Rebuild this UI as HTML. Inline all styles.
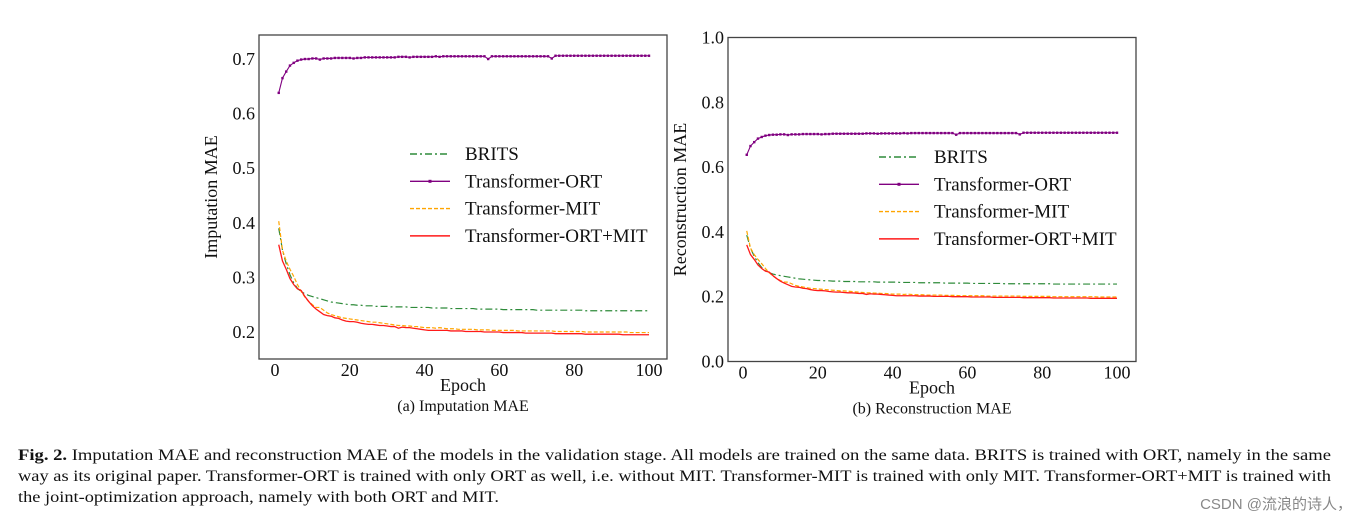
<!DOCTYPE html>
<html><head><meta charset="utf-8"><style>
html,body{margin:0;padding:0;background:#fff;width:1364px;height:526px;overflow:hidden}
svg text{font-family:"Liberation Serif","Noto Serif CJK SC",serif}
</style></head><body>
<svg id="fig" width="1364" height="526" viewBox="0 0 1364 526" xmlns="http://www.w3.org/2000/svg">
<g id="chartA"></g>
<g id="chartB"></g>
<g font-size="15.5" fill="#111">
<text x="18" y="460" textLength="1313" lengthAdjust="spacingAndGlyphs"><tspan font-weight="bold">Fig. 2.</tspan> Imputation MAE and reconstruction MAE of the models in the validation stage. All models are trained on the same data. BRITS is trained with ORT, namely in the same</text>
<text x="18" y="481" textLength="1313" lengthAdjust="spacingAndGlyphs">way as its original paper. Transformer-ORT is trained with only ORT as well, i.e. without MIT. Transformer-MIT is trained with only MIT. Transformer-ORT+MIT is trained with</text>
<text x="18" y="502" textLength="481" lengthAdjust="spacingAndGlyphs">the joint-optimization approach, namely with both ORT and MIT.</text>
</g>
<text x="1352" y="509" text-anchor="end" font-size="15" fill="#888" style="font-family:'Liberation Sans','Noto Sans CJK SC',sans-serif">CSDN @流浪的诗人，</text>
</svg>
<script>
const epochs = Array.from({length:100},(_,i)=>i+1);
const seriesNames = ["BRITS","Transformer-ORT","Transformer-MIT","Transformer-ORT+MIT"];
const ortValues = [0.638,0.665,0.677,0.688,0.693,0.697,0.699,0.700,0.700,0.701,0.701,0.699,0.701,0.701,0.701,0.702,0.702,0.702,0.702,0.702,
0.701,0.702,0.702,0.703,0.703,0.703,0.703,0.703,0.703,0.703,0.703,0.703,0.704,0.704,0.704,0.703,0.704,0.704,0.704,0.704,
0.704,0.704,0.705,0.704,0.705,0.705,0.705,0.705,0.705,0.705,0.705,0.705,0.705,0.705,0.705,0.705,0.700,0.705,0.705,0.705,
0.705,0.705,0.705,0.705,0.705,0.705,0.705,0.705,0.705,0.705,0.705,0.705,0.705,0.701,0.706,0.706,0.706,0.706,0.706,0.706,
0.706,0.706,0.706,0.706,0.706,0.706,0.706,0.706,0.706,0.706,0.706,0.706,0.706,0.706,0.706,0.706,0.706,0.706,0.706,0.706];
const britsValues = [0.390,0.350,0.325,0.305,0.290,0.280,0.274,0.270,0.267,0.265,0.263,0.261,0.259,0.257,0.255,0.254,0.253,0.252,0.251,0.250,
0.250,0.249,0.249,0.248,0.248,0.248,0.247,0.247,0.247,0.247,0.246,0.246,0.246,0.246,0.246,0.245,0.245,0.245,0.245,0.245,
0.245,0.244,0.244,0.244,0.244,0.244,0.243,0.243,0.243,0.243,0.243,0.243,0.243,0.242,0.242,0.242,0.242,0.242,0.242,0.242,
0.241,0.241,0.241,0.241,0.241,0.241,0.241,0.241,0.241,0.240,0.240,0.240,0.240,0.240,0.240,0.240,0.240,0.240,0.240,0.240,
0.240,0.240,0.239,0.239,0.239,0.239,0.239,0.239,0.239,0.239,0.239,0.239,0.239,0.239,0.239,0.239,0.239,0.239,0.239,0.239];
const mitValues = [0.403,0.350,0.330,0.315,0.302,0.287,0.274,0.264,0.256,0.250,0.245,0.245,0.240,0.235,0.232,0.230,0.228,0.226,0.225,0.224,
0.223,0.222,0.221,0.220,0.219,0.218,0.218,0.217,0.216,0.215,0.214,0.213,0.212,0.212,0.211,0.211,0.210,0.210,0.209,0.208,
0.208,0.208,0.207,0.208,0.207,0.206,0.206,0.206,0.205,0.205,0.205,0.205,0.205,0.204,0.204,0.204,0.204,0.203,0.203,0.203,
0.203,0.203,0.203,0.203,0.202,0.202,0.202,0.202,0.202,0.202,0.202,0.202,0.202,0.202,0.201,0.201,0.201,0.201,0.201,0.201,
0.201,0.201,0.200,0.200,0.200,0.200,0.200,0.200,0.200,0.200,0.200,0.200,0.200,0.200,0.199,0.199,0.199,0.199,0.199,0.199];
const jointValues = [0.360,0.330,0.315,0.298,0.287,0.279,0.276,0.265,0.256,0.248,0.242,0.237,0.232,0.230,0.229,0.226,0.225,0.222,0.220,0.219,
0.219,0.218,0.216,0.215,0.214,0.214,0.213,0.212,0.212,0.211,0.210,0.210,0.207,0.209,0.208,0.208,0.207,0.206,0.205,0.204,
0.203,0.203,0.203,0.203,0.203,0.203,0.202,0.202,0.202,0.202,0.201,0.201,0.201,0.201,0.201,0.200,0.200,0.200,0.200,0.200,
0.199,0.199,0.199,0.199,0.199,0.199,0.198,0.198,0.198,0.198,0.198,0.198,0.198,0.198,0.197,0.197,0.197,0.197,0.197,0.197,
0.197,0.197,0.196,0.196,0.196,0.196,0.196,0.196,0.196,0.196,0.196,0.196,0.195,0.195,0.195,0.195,0.195,0.195,0.195,0.195];
const xTickLabels = [0,20,40,60,80,100];
const yTicksA = [0.2,0.3,0.4,0.5,0.6,0.7];
const yTicksB = [0.0,0.2,0.4,0.6,0.8,1.0];

const NS="http://www.w3.org/2000/svg";
function mk(tag,parent,attrs){const e=document.createElementNS(NS,tag);for(const k in attrs)e.setAttribute(k,attrs[k]);parent.appendChild(e);return e;}

function drawChart(g,cfg){
  const {L,R,T,B,x0px,x100px,yMin,yMax,yTicks,dec,ylabel,sub,legX,legY}=cfg;
  const xs=v=>x0px+(x100px-x0px)*v/100;
  const ys=v=>B-(v-yMin)/(yMax-yMin)*(B-T);
  const frame=mk('rect',g,{x:L,y:T,width:R-L,height:B-T,fill:'none',stroke:'#444','stroke-width':1.3});
  
  
  xTickLabels.forEach(t=>{
    const tl=mk('text',g,{x:xs(t),y:B+17,'text-anchor':'middle','font-size':18,fill:'#111'});
    tl.textContent=t;
    
    
  });
  yTicks.forEach(t=>{
    const tl=mk('text',g,{x:L-4,y:ys(t)+6,'text-anchor':'end','font-size':18,fill:'#111'});
    tl.textContent=t.toFixed(dec);
    
    
  });
  const xl=mk('text',g,{x:(L+R)/2,y:B+32,'text-anchor':'middle','font-size':18,fill:'#111'});
  xl.textContent='Epoch';
  
  
  const yl=mk('text',g,{x:0,y:0,'text-anchor':'middle','font-size':18,fill:'#111',transform:`translate(${L-42},${(T+B)/2}) rotate(-90)`});
  yl.textContent=ylabel;
  
  
  const sc=mk('text',g,{x:(L+R)/2,y:B+52,'text-anchor':'middle','font-size':16,fill:'#111'});
  sc.textContent=sub;
  
  
  const styles=[
    {data:britsValues,color:'#2e8b3a',dash:'7 3 2 3',w:1.2},
    {data:ortValues,color:'#800080',dash:'',w:1.1,marker:true},
    {data:mitValues,color:'#ffa500',dash:'4 2',w:1.2},
    {data:jointValues,color:'#ff1a1a',dash:'',w:1.3}
  ];
  const names=['brits-line','transformer-ort-line','transformer-mit-line','transformer-ort-mit-line'];
  styles.forEach((s,i)=>{
    const d=s.data.map((v,j)=>(j?'L':'M')+xs(epochs[j]).toFixed(2)+','+ys(v).toFixed(2)).join(' ');
    const p=mk('path',g,{d,fill:'none',stroke:s.color,'stroke-width':s.w,'stroke-dasharray':s.dash});
    
    
    if(s.marker){
      s.data.forEach((v,j)=>{
        const c=mk('rect',g,{x:xs(epochs[j])-1.2,y:ys(v)-1.2,width:2.4,height:2.4,fill:s.color});
        
        
      });
    }
    const ly=legY+i*27.3;
    const ll=mk('line',g,{x1:legX,y1:ly,x2:legX+40,y2:ly,stroke:s.color,'stroke-width':s.w+0.2,'stroke-dasharray':s.dash});
    
    
    if(s.marker){const m=mk('rect',g,{x:legX+18.5,y:ly-1.5,width:3,height:3,fill:s.color});}
    const lt=mk('text',g,{x:legX+55,y:ly+6,'font-size':19,fill:'#111'});
    lt.textContent=seriesNames[i];
    
    
  });
}
drawChart(document.getElementById('chartA'),{L:259,R:667,T:35,B:359,x0px:275,x100px:649,yMin:0.1506,yMax:0.744,yTicks:yTicksA,dec:1,ylabel:'Imputation MAE',sub:'(a)  Imputation MAE',legX:410,legY:154});
drawChart(document.getElementById('chartB'),{L:728,R:1136,T:37.5,B:361.5,x0px:743,x100px:1117,yMin:0,yMax:1,yTicks:yTicksB,dec:1,ylabel:'Reconstruction MAE',sub:'(b)  Reconstruction MAE',legX:879,legY:157});
</script>
</body></html>
